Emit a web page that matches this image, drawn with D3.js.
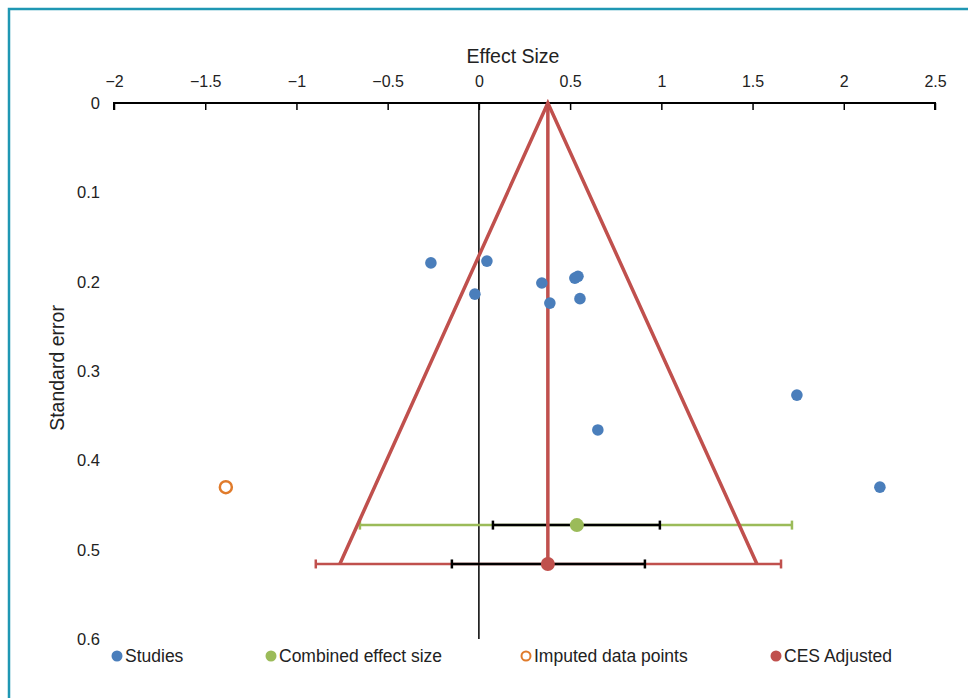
<!DOCTYPE html>
<meta charset="utf-8">
<script src="https://d3js.org/d3.v7.min.js"></script>
<style>
  body { margin: 0; background: #fff; }
  text { font-family: "Liberation Sans", Arial, sans-serif; fill: #222; }
</style>
<div id="my_dataviz"></div>
<script>

    // studies: effect size and standard error
    const studyES = [-0.263, 0.044, -0.022, 0.345, 0.526, 0.543, 0.389, 0.554, 1.743, 0.652, 2.198];
    const studySE = [0.179, 0.177, 0.214, 0.2015, 0.196, 0.194, 0.224, 0.219, 0.327, 0.366, 0.430];

    // imputed data points
    const imputedES = [-1.387];
    const imputedSE = [0.430];

    // combined effect size: [low, ci low, estimate, ci high, high], se
    const ces = [-0.652, 0.077, 0.537, 0.992, 1.716];
    const cesSE = 0.4725;

    // adjusted combined effect size
    const cesAdj = [-0.894, -0.148, 0.378, 0.910, 1.656];
    const cesAdjSE = 0.516;

    // funnel: left foot, apex, right foot
    const funnelES = [-0.762, 0.378, 1.524];
    const funnelSE = [0.516, 0, 0.516];

    const xTicks = [-2, -1.5, -1, -0.5, 0, 0.5, 1, 1.5, 2, 2.5];
    const yTicks = [0, 0.1, 0.2, 0.3, 0.4, 0.5, 0.6];

    const legendNames = ["Studies", "Combined effect size", "Imputed data points", "CES Adjusted"];

    const W = 968, H = 698;
    const blue = "#4a7ebb", green = "#9bbb59", orange = "#e07b2b", red = "#c0504d";

    const svg = d3.select("#my_dataviz")
        .append("svg")
        .attr("width", W)
        .attr("height", H);

    // frame
    svg.append("path")
        .attr("d", `M9,${H} L9,9 L${W},9`)
        .attr("fill", "none")
        .attr("stroke", "#1f97b3")
        .attr("stroke-width", 2.5);

    const x = d3.scaleLinear().domain([-2, 2.5]).range([114, 935]);
    const y = d3.scaleLinear().domain([0, 0.6]).range([103, 639]);

    // x axis on top, ticks pointing down
    const xAxis = svg.append("g")
        .attr("transform", `translate(0, ${y(0)})`)
        .call(d3.axisBottom(x).tickValues(xTicks).tickSize(7).tickFormat(d => d3.format("")(d).replace("-", "\u2212")));
    xAxis.select(".domain").attr("stroke", "#000").attr("stroke-width", 2).attr("d", `M${x(-2)},7V0H${x(2.5)}V7`);
    xAxis.selectAll(".tick line").attr("stroke", "#000").attr("stroke-width", 1.5);
    xAxis.selectAll(".tick text")
        .attr("y", -16)
        .attr("dy", "0")
        .style("font-size", "16px")
        .style("font-family", "Liberation Sans, Arial, sans-serif")
        .attr("fill", "#222");

    svg.append("text")
        .attr("x", 513)
        .attr("y", 63)
        .attr("text-anchor", "middle")
        .style("font-size", "19.5px")
        .text("Effect Size");

    // y tick labels only
    svg.selectAll(".ylab")
        .data(yTicks)
        .join("text")
        .attr("class", "ylab")
        .attr("x", 100)
        .attr("y", d => y(d) + 6)
        .attr("text-anchor", "end")
        .style("font-size", "16.5px")
        .text(d => d);

    svg.append("text")
        .attr("transform", `translate(64, 368) rotate(-90)`)
        .attr("text-anchor", "middle")
        .style("font-size", "19.5px")
        .text("Standard error");

    // zero line
    svg.append("line")
        .attr("x1", x(0)).attr("x2", x(0))
        .attr("y1", y(0)).attr("y2", y(0.6))
        .attr("stroke", "#000")
        .attr("stroke-width", 1.5);

    // error bars with caps
    function bar(x0, x1, yv, color, width) {
        svg.append("line")
            .attr("x1", x(x0)).attr("x2", x(x1))
            .attr("y1", y(yv)).attr("y2", y(yv))
            .attr("stroke", color).attr("stroke-width", width);
        [x0, x1].forEach(v => {
            svg.append("line")
                .attr("x1", x(v)).attr("x2", x(v))
                .attr("y1", y(yv) - 4.5).attr("y2", y(yv) + 4.5)
                .attr("stroke", color).attr("stroke-width", width);
        });
    }

    bar(ces[0], ces[4], cesSE, green, 2.5);
    bar(ces[1], ces[3], cesSE, "#000", 2.5);
    bar(cesAdj[0], cesAdj[4], cesAdjSE, red, 2.5);
    bar(cesAdj[1], cesAdj[3], cesAdjSE, "#000", 2.5);

    // funnel
    const line = d3.line().x(d => x(d[0])).y(d => y(d[1]));
    svg.append("path")
        .attr("d", line(d3.zip(funnelES, funnelSE)))
        .attr("fill", "none")
        .attr("stroke", red)
        .attr("stroke-width", 3.5)
        .attr("stroke-linejoin", "miter");

    svg.append("line")
        .attr("x1", x(cesAdj[2])).attr("x2", x(cesAdj[2]))
        .attr("y1", y(0)).attr("y2", y(cesAdjSE))
        .attr("stroke", red)
        .attr("stroke-width", 3.5);

    // points
    svg.selectAll(".study")
        .data(d3.zip(studyES, studySE))
        .join("circle")
        .attr("cx", d => x(d[0]))
        .attr("cy", d => y(d[1]))
        .attr("r", 5.8)
        .attr("fill", blue);

    svg.selectAll(".imputed")
        .data(d3.zip(imputedES, imputedSE))
        .join("circle")
        .attr("cx", d => x(d[0]))
        .attr("cy", d => y(d[1]))
        .attr("r", 6)
        .attr("fill", "#fff")
        .attr("stroke", orange)
        .attr("stroke-width", 2.5);

    svg.append("circle")
        .attr("cx", x(ces[2])).attr("cy", y(cesSE))
        .attr("r", 7).attr("fill", green);

    svg.append("circle")
        .attr("cx", x(cesAdj[2])).attr("cy", y(cesAdjSE))
        .attr("r", 7).attr("fill", red);

    // legend
    const legX = [117, 271, 526, 776];
    const legColors = [blue, green, orange, red];
    const legend = svg.selectAll(".leg")
        .data(legendNames)
        .join("g")
        .attr("transform", (d, i) => `translate(${legX[i]}, 656)`);
    legend.append("circle")
        .attr("r", (d, i) => i === 2 ? 4.5 : 5.5)
        .attr("fill", (d, i) => i === 2 ? "#fff" : legColors[i])
        .attr("stroke", (d, i) => i === 2 ? orange : "none")
        .attr("stroke-width", 2);
    legend.append("text")
        .attr("x", 8)
        .attr("y", 6)
        .style("font-size", "17.5px")
        .text(d => d);

</script>
